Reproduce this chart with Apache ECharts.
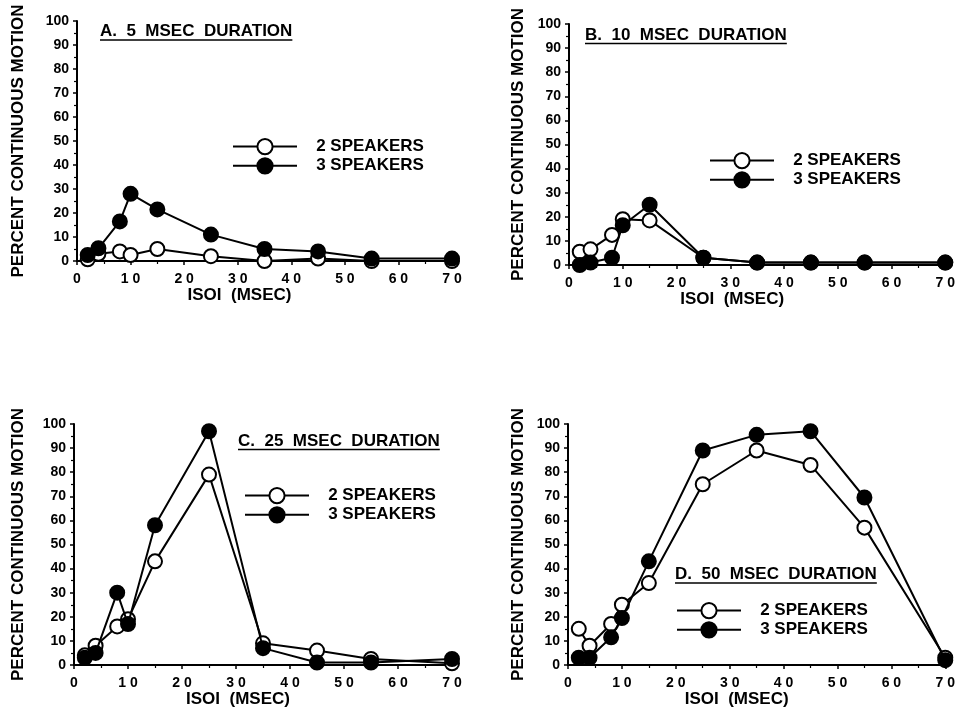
<!DOCTYPE html>
<html>
<head>
<meta charset="utf-8">
<script src="https://cdn.jsdelivr.net/npm/echarts@6/dist/echarts.min.js"></script>
<style>
html,body{margin:0;padding:0;background:#fff;}
#chart{width:958px;height:710px;}
</style>
</head>
<body>
<div id="chart"></div>
<script>
// ---- data ----
const isoi = [2, 4, 8, 10, 15, 25, 35, 45, 55, 70];
const xTickLabels = ['0', '1 0', '2 0', '3 0', '4 0', '5 0', '6 0', '7 0'];
const yTickLabels = ['0', '10', '20', '30', '40', '50', '60', '70', '80', '90', '100'];
const seriesNames = ['2 SPEAKERS', '3 SPEAKERS'];
const panelTitles = ['A.  5  MSEC  DURATION', 'B.  10  MSEC  DURATION', 'C.  25  MSEC  DURATION', 'D.  50  MSEC  DURATION'];
const yAxisName = 'PERCENT CONTINUOUS MOTION';
const xAxisName = 'ISOI  (MSEC)';

const a2 = [0.7, 3, 4, 2.5, 5, 2, 0, 1, 0, 0];
const a3 = [2.5, 5.3, 16.5, 28, 21.5, 11, 5, 4, 1, 1];
const b2 = [5.5, 6.5, 12.5, 19, 18.5, 3, 1, 1, 1, 1];
const b3 = [0, 1, 3, 16.5, 25, 3, 1, 1, 1, 1];
const c2 = [4, 8, 16, 19, 43, 79, 9, 6, 2.5, 0.7];
const c3 = [3, 5, 30, 17, 58, 97, 7, 1, 1, 2.5];
const d2 = [15, 8, 17, 25, 34, 75, 89, 83, 57, 3];
const d3 = [3, 3, 11.5, 19.5, 43, 89, 95.5, 97, 69.5, 2];

const panelData = [[a2, a3], [b2, b3], [c2, c3], [d2, d3]];

// ---- layout ----
const FONT = '"Liberation Sans", Arial, sans-serif';
const grids = [
  {left: 77, top: 21, width: 375, height: 240},
  {left: 569, top: 24, width: 379, height: 241},
  {left: 74, top: 424, width: 378, height: 241},
  {left: 568, top: 424, width: 379, height: 241}
];
const yNameGap = [50, 42, 47, 41];
const xNameShift = [50, 50, 50, 40];
const legendPos = [
  {left: 232, top: 138},
  {left: 709, top: 152},
  {left: 244, top: 487},
  {left: 676, top: 602}
];
const titlePos = [
  {x: 100, y: 33},
  {x: 585, y: 36.5},
  {x: 238, y: 442.5},
  {x: 675, y: 576}
];

const chart = echarts.init(document.getElementById('chart'), null, {renderer: 'canvas'});

const xAxes = [], yAxes = [], series = [], legends = [], graphics = [];
const measure = document.createElement('canvas').getContext('2d');

grids.forEach((g, i) => {
  xAxes.push({
    type: 'value', gridIndex: i, min: 0, max: 70, interval: 10,
    name: xAxisName, nameLocation: 'middle', nameGap: 22,
    nameTextStyle: {fontFamily: FONT, fontWeight: 'bold', fontSize: 17, color: '#000', padding: [0, xNameShift[i], 0, 0]},
    axisLine: {show: true, onZero: false, lineStyle: {color: '#000', width: 2}},
    axisTick: {show: true, length: 4, lineStyle: {color: '#000', width: 1.5}},
    minorTick: {show: true, splitNumber: 2, length: 3, lineStyle: {color: '#000', width: 1.2}},
    axisLabel: {fontFamily: FONT, fontWeight: 'bold', fontSize: 14, color: '#000', margin: 11,
      formatter: v => xTickLabels[Math.round(v / 10)]},
    splitLine: {show: false}
  });
  yAxes.push({
    type: 'value', gridIndex: i, min: 0, max: 100, interval: 10,
    name: yAxisName, nameLocation: 'middle', nameGap: yNameGap[i], nameRotate: 90,
    nameTextStyle: {fontFamily: FONT, fontWeight: 'bold', fontSize: 17, color: '#000'},
    axisLine: {show: true, onZero: false, lineStyle: {color: '#000', width: 2}},
    axisTick: {show: true, length: 4, lineStyle: {color: '#000', width: 1.5}},
    minorTick: {show: true, splitNumber: 2, length: 3, lineStyle: {color: '#000', width: 1.2}},
    axisLabel: {fontFamily: FONT, fontWeight: 'bold', fontSize: 14, color: '#000', margin: 8,
      formatter: v => yTickLabels[Math.round(v / 10)]},
    splitLine: {show: false}
  });
  panelData[i].forEach((vals, k) => {
    series.push({
      type: 'line', name: seriesNames[k], xAxisIndex: i, yAxisIndex: i,
      data: isoi.map((x, j) => [x, vals[j]]),
      symbol: 'circle', symbolSize: 14, showAllSymbol: true,
      z: 2 + k,
      lineStyle: {color: '#000', width: 2},
      itemStyle: k === 0 ? {color: '#fff', borderColor: '#000', borderWidth: 2}
                         : {color: '#000', borderColor: '#000', borderWidth: 2},
      emphasis: {disabled: true},
      animation: false
    });
  });
  legends.push({
    left: legendPos[i].left, top: legendPos[i].top, orient: 'vertical',
    padding: 0, itemGap: 2, itemWidth: 64, itemHeight: 19,
    data: seriesNames,
    formatter: n => '   ' + n,
    selectedMode: false,
    textStyle: {fontFamily: FONT, fontWeight: 'bold', fontSize: 17, color: '#000'}
  });
  const tFont = 'bold 17px ' + FONT;
  measure.font = tFont;
  const w = measure.measureText(panelTitles[i]).width;
  const tp = titlePos[i];
  graphics.push({
    type: 'text', left: tp.x, top: tp.y - 10, silent: true,
    style: {text: panelTitles[i], font: tFont, fill: '#000'}
  });
  graphics.push({
    type: 'line', silent: true,
    shape: {x1: tp.x, y1: tp.y + 7, x2: tp.x + w, y2: tp.y + 7},
    style: {stroke: '#000', lineWidth: 1.5}
  });
});

chart.setOption({
  backgroundColor: '#fff',
  animation: false,
  grid: grids,
  xAxis: xAxes,
  yAxis: yAxes,
  legend: legends,
  series: series,
  graphic: graphics
});
</script>
</body>
</html>
